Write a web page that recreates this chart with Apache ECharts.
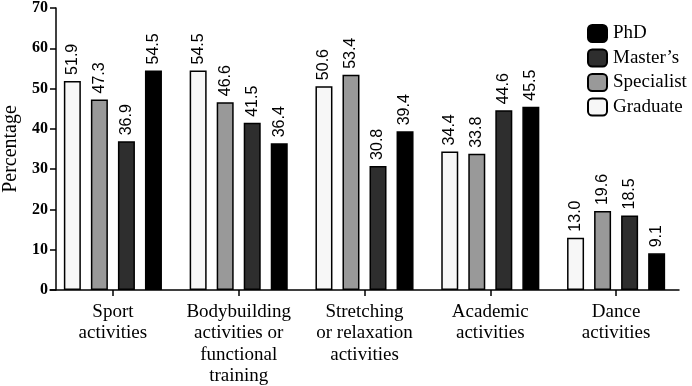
<!DOCTYPE html>
<html>
<head>
<meta charset="utf-8">
<script src="https://cdn.jsdelivr.net/npm/echarts@6/dist/echarts.min.js"></script>
<style>
    html, body { margin: 0; padding: 0; background: #fff; }
    #chart { width: 692px; height: 386px; }
</style>
</head>
<body>
<div id="chart"></div>
<script>
// activity categories on the x axis
const categories = [
    'Sport\nactivities',
    'Bodybuilding\nactivities or\nfunctional\ntraining',
    'Stretching\nor relaxation\nactivities',
    'Academic\nactivities',
    'Dance\nactivities'
]
const graduate = [51.9, 54.5, 50.6, 34.4, 13.0]
const specialist = [47.3, 46.6, 53.4, 33.8, 19.6]
const masters = [36.9, 41.5, 30.8, 44.6, 18.5]
const phd = [54.5, 36.4, 39.4, 45.5, 9.1]

const serif = '"Liberation Serif", "Times New Roman", serif'
const sans = '"Liberation Sans", Arial, sans-serif'

const chart = echarts.init(document.getElementById('chart'))

function makeSeries(name, data, color) {
    return {
        name: name,
        type: 'bar',
        data: data,
        barWidth: 17,
        barGap: '59%',
        itemStyle: {
            color: color,
            borderColor: '#000',
            borderWidth: 1.5
        },
        label: {
            show: true,
            position: 'top',
            rotate: 90,
            align: 'left',
            verticalAlign: 'middle',
            distance: 6,
            fontFamily: sans,
            fontSize: 16,
            color: '#000',
            formatter: p => p.value.toFixed(1)
        }
    }
}

const option = {
    backgroundColor: '#fff',
    animation: false,
    grid: {
        left: 50,
        right: 13,
        top: 8,
        bottom: 96,
        outerBoundsMode: 'none' // keep the grid where it is, labels may sit outside
    },
    legend: {
        orient: 'vertical',
        left: 582,
        top: 19,
        itemWidth: 19,
        itemHeight: 17,
        itemGap: 5.5,
        data: ['PhD', 'Master\u2019s', 'Specialist', 'Graduate'],
        textStyle: {
            fontFamily: serif,
            fontSize: 19,
            color: '#000',
            padding: [0, 0, 0, 1]
        }
    },
    xAxis: {
        type: 'category',
        data: categories,
        axisLine: { lineStyle: { color: '#000', width: 1.5 } },
        axisTick: { show: true, alignWithLabel: true, length: 6, lineStyle: { color: '#000', width: 1.5 } },
        axisLabel: {
            interval: 0,
            margin: 11,
            fontFamily: serif,
            fontSize: 19,
            lineHeight: 21.5,
            color: '#000'
        }
    },
    yAxis: {
        type: 'value',
        min: 0,
        max: 70,
        interval: 10,
        offset: -6,
        name: 'Percentage',
        nameLocation: 'middle',
        nameGap: 33,
        nameTextStyle: {
            fontFamily: serif,
            fontSize: 20,
            color: '#000'
        },
        axisLine: { show: true, lineStyle: { color: '#000', width: 1.5 } },
        axisTick: { show: true, length: 6, lineStyle: { color: '#000', width: 1.5 } },
        axisLabel: {
            margin: 8,
            fontFamily: serif,
            fontWeight: 'bold',
            fontSize: 16,
            color: '#000'
        },
        splitLine: { show: false }
    },
    series: [
        makeSeries('Graduate', graduate, '#f7f7f7'),
        makeSeries('Specialist', specialist, '#999999'),
        makeSeries('Master\u2019s', masters, '#2e2e2e'),
        makeSeries('PhD', phd, '#000000')
    ]
}

chart.setOption(option)
</script>
</body>
</html>
